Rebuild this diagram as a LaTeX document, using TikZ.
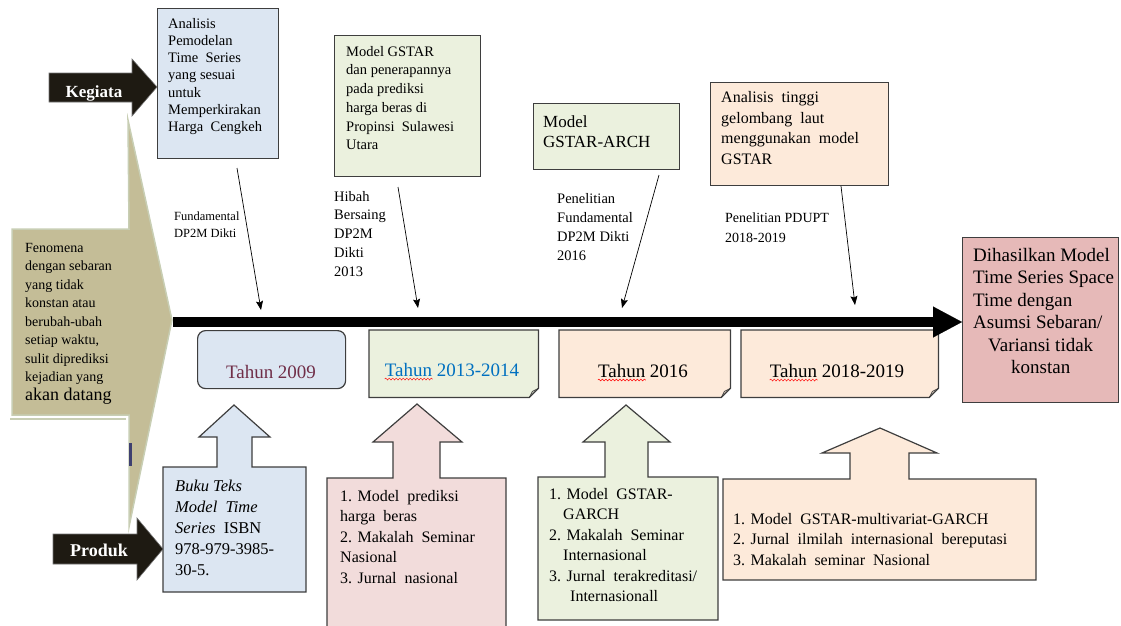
\documentclass[tikz,border=0pt]{standalone}
\usepackage{fontspec}
\setmainfont{Liberation Serif}
\usetikzlibrary{arrows.meta,decorations.pathmorphing}
\definecolor{boxblue}{RGB}{220, 230, 242}
\definecolor{boxgreen}{RGB}{235, 241, 222}
\definecolor{boxpeach}{RGB}{253, 234, 218}
\definecolor{boxpink}{RGB}{242, 220, 219}
\definecolor{boxrose}{RGB}{230, 185, 184}
\definecolor{khaki}{RGB}{196, 189, 151}
\definecolor{khakiedge}{RGB}{200, 206, 180}
\definecolor{tagdark}{RGB}{30, 26, 18}
\definecolor{edgegrey}{RGB}{62, 62, 62}
\definecolor{yearmaroon}{RGB}{112, 46, 72}
\definecolor{yearblue}{RGB}{0, 112, 192}
\definecolor{barnavy}{RGB}{62, 64, 112}
\providecommand{\fsz}[2]{\fontsize{#1}{#2}\selectfont}

\begin{document}
\begin{tikzpicture}[x=1pt, y=-1pt,
      card/.style={draw=edgegrey, line width=1.2pt},
      slot/.style={inner sep=0pt, anchor=north west},
      txt/.style={inner sep=0pt, anchor=north west, align=left},
      yeartxt/.style={inner sep=0pt, anchor=base, font=\fsz{19}{22}},
      tagtxt/.style={inner sep=0pt, anchor=base, text=white, font=\fsz{18}{20}\bfseries},
      conn/.style={line width=0.7pt, -{Stealth[length=9pt, width=7pt, inset=1.5pt]}},
      spell/.style={red, line width=0.5pt, decorate,
                    decoration={snake, segment length=3.5pt, amplitude=0.9pt}},
    ]
    \useasboundingbox (0,0) rectangle (1121,625);

    %% big khaki chevron on the left
    \filldraw[fill=khaki, draw=khakiedge, line width=1.5pt]
      (128,120) -- (172,320) -- (129,527) -- (129,415)
      -- (12,415) -- (12,229) -- (129,229) -- cycle;
    \draw[khakiedge, line width=1.5pt] (10,419) -- (126,419);
    \fill[barnavy] (129,443) rectangle (132,466);
    \node[txt, font=\fsz{14}{18.5}] (fen) at (25,243)
      {Fenomena\\ dengan sebaran\\ yang tidak\\ konstan atau\\ berubah-ubah\\
       setiap waktu,\\ sulit diprediksi\\ kejadian yang\\
       {\fsz{18}{22}akan datang}};

    %% black tags
    \filldraw[fill=tagdark, draw=black!55, line width=0.6pt]
      (49,73) -- (132,73) -- (132,59) -- (157,87) -- (132,116) -- (132,102) -- (49,102) -- cycle;
    \node[tagtxt, font=\fsz{17}{20}\bfseries] (keg) at (94,97) {Kegiata};
    \filldraw[fill=tagdark, draw=black!55, line width=0.6pt]
      (53,534) -- (137,534) -- (137,518) -- (163,549) -- (137,580) -- (137,564) -- (53,564) -- cycle;
    \node[tagtxt] (prod) at (99,556) {Produk};

    %% activity boxes (top)
    \node[slot, card, fill=boxblue, minimum width=121pt, minimum height=150pt] (k1) at (157,8) {};
    \node[txt, font=\fsz{14.5}{17.2}] (k1t) at (168,18)
      {Analisis\\ Pemodelan\\ Time\ \ Series\\ yang sesuai\\ untuk\\ Memperkirakan\\ Harga\ \ Cengkeh};
    \node[slot, card, fill=boxgreen, minimum width=146pt, minimum height=141pt] (k2) at (334,35) {};
    \node[txt, font=\fsz{14.5}{18.7}] (k2t) at (346,46)
      {Model GSTAR\\ dan penerapannya\\ pada prediksi\\ harga beras di\\ Propinsi\ \ Sulawesi\\ Utara};
    \node[slot, card, fill=boxgreen, minimum width=146pt, minimum height=66pt] (k3) at (533,103) {};
    \node[txt, font=\fsz{17}{20}] (k3t) at (543,115) {Model\\ GSTAR-ARCH};
    \node[slot, card, fill=boxpeach, minimum width=178pt, minimum height=103pt] (k4) at (710,82) {};
    \node[txt, font=\fsz{16}{20.7}] (k4t) at (721,91)
      {Analisis\ \ tinggi\\ gelombang\ \ laut\\ menggunakan\ \ model\\ GSTAR};

    %% funding labels
    \node[txt, font=\fsz{12.5}{17}] (f1) at (174,212) {Fundamental\\ DP2M Dikti};
    \node[txt, font=\fsz{14.5}{18.7}] (f2) at (334,191) {Hibah\\ Bersaing\\ DP2M\\ Dikti\\ 2013};
    \node[txt, font=\fsz{14.5}{19}] (f3) at (557,193) {Penelitian\\ Fundamental\\ DP2M Dikti\\ 2016};
    \node[txt, font=\fsz{14}{20}] (f4) at (725,213) {Penelitian PDUPT\\ 2018-2019};

    %% result box (right)
    \node[slot, card, fill=boxrose, minimum width=156pt, minimum height=165pt] (res) at (962,237) {};
    \node[txt, font=\fsz{19}{22.5}] (rest) at (973,248)
      {Dihasilkan Model\\ Time Series Space\\ Time dengan\\ Asumsi Sebaran/\\
       \hspace*{15pt}Variansi tidak\\ \hspace*{38pt}konstan};

    %% year boxes
    \node[slot, card, fill=boxblue, rounded corners=8pt, minimum width=148pt, minimum height=58pt] (y09) at (197,330) {};
    \node[yeartxt, text=yearmaroon] (y09t) at (271,378) {Tahun 2009};
    \foreach \nm/\xa/\xb/\col in {y13/369/538/boxgreen, y16/559/730/boxpeach, y18/741/938/boxpeach}{
      \node[slot, minimum width=\xb pt-\xa pt, minimum height=67pt] (\nm) at (\xa,330) {};
      \filldraw[card, fill=\col] (\nm.north west) -- (\nm.north east) -- ([yshift=9pt]\nm.south east)
        -- ([xshift=-9pt]\nm.south east) -- (\nm.south west) -- cycle;
      \draw[card, line width=0.8pt] ([yshift=9pt]\nm.south east) -- ([xshift=-6pt, yshift=6pt]\nm.south east)
        -- ([xshift=-9pt]\nm.south east);
    }
    \node[yeartxt, text=yearblue] (y13t) at (452,376) {Tahun 2013-2014};
    \node[yeartxt] (y16t) at (643,377) {Tahun 2016};
    \node[yeartxt] (y18t) at (837,377) {Tahun 2018-2019};
    %% spell-check marks under "Tahun"
    \foreach \nm in {y13t, y16t, y18t}{
      \draw[spell] ([yshift=-3pt]\nm.base west) -- ++(48,0);
    }

    %% timeline
    \coordinate (tls) at (173,322);
    \draw[line width=10pt, -{Triangle[length=29pt, width=31pt, line width=0.1pt]}] (tls) -- (res.west |- tls);

    %% funding connectors
    \coordinate (c1s) at (237,168); \coordinate (c1e) at (261,310);
    \coordinate (c2s) at (398,187); \coordinate (c2e) at (418,308);
    \coordinate (c3s) at (659,175); \coordinate (c3e) at (622,308);
    \coordinate (c4s) at (841,186); \coordinate (c4e) at (855,305);
    \foreach \i in {1,...,4}{
      \draw[conn] (c\i s) -- (c\i e);
    }

    %% product callouts
    \filldraw[card, fill=boxblue] (163,467) -- (217,467) -- (217,437) -- (199,437) -- (234,405)
      -- (270,437) -- (252,437) -- (252,467) -- (306,467) -- (306,592) -- (163,592) -- cycle;
    \node[txt, font=\fsz{16.5}{21}] (p1t) at (175,480)
      {\textit{Buku Teks}\\ \textit{Model\ \ Time}\\ \textit{Series}\ \ ISBN\\ 978-979-3985-\\ 30-5.};
    \filldraw[card, fill=boxpink] (327,478) -- (393,478) -- (393,442) -- (373,442) -- (417,404)
      -- (462,442) -- (440,442) -- (440,478) -- (506,478) -- (506,640) -- (327,640) -- cycle;
    \node[txt, font=\fsz{16}{20.5}] (p2t) at (340,490)
      {1. Model\ \ prediksi\\ harga\ \ beras\\ 2. Makalah\ \ Seminar\\ Nasional\\ 3. Jurnal\ \ nasional};
    \filldraw[card, fill=boxgreen] (538,477) -- (605,477) -- (605,442) -- (583,442) -- (626,405)
      -- (670,442) -- (648,442) -- (648,477) -- (718,477) -- (718,620) -- (538,620) -- cycle;
    \node[txt, font=\fsz{16}{20.5}] (p3t) at (549,488)
      {1. Model\ \ GSTAR-\\ \hspace*{14pt}GARCH\\ 2. Makalah\ \ Seminar\\ \hspace*{14pt}Internasional\\
       3. Jurnal\ \ terakreditasi/\\ \hspace*{21pt}Internasionall};
    \filldraw[card, fill=boxpeach] (723,479) -- (850,479) -- (850,453) -- (822,453) -- (880,428)
      -- (937,453) -- (909,453) -- (909,479) -- (1036,479) -- (1036,580) -- (723,580) -- cycle;
    \node[txt, font=\fsz{16}{20.5}] (p4t) at (733,513)
      {1. Model\ \ GSTAR-multivariat-GARCH\\ 2. Jurnal\ \ ilmilah\ \ internasional\ \ bereputasi\\
       3. Makalah\ \ seminar\ \ Nasional};
    \end{tikzpicture}
\end{document}
